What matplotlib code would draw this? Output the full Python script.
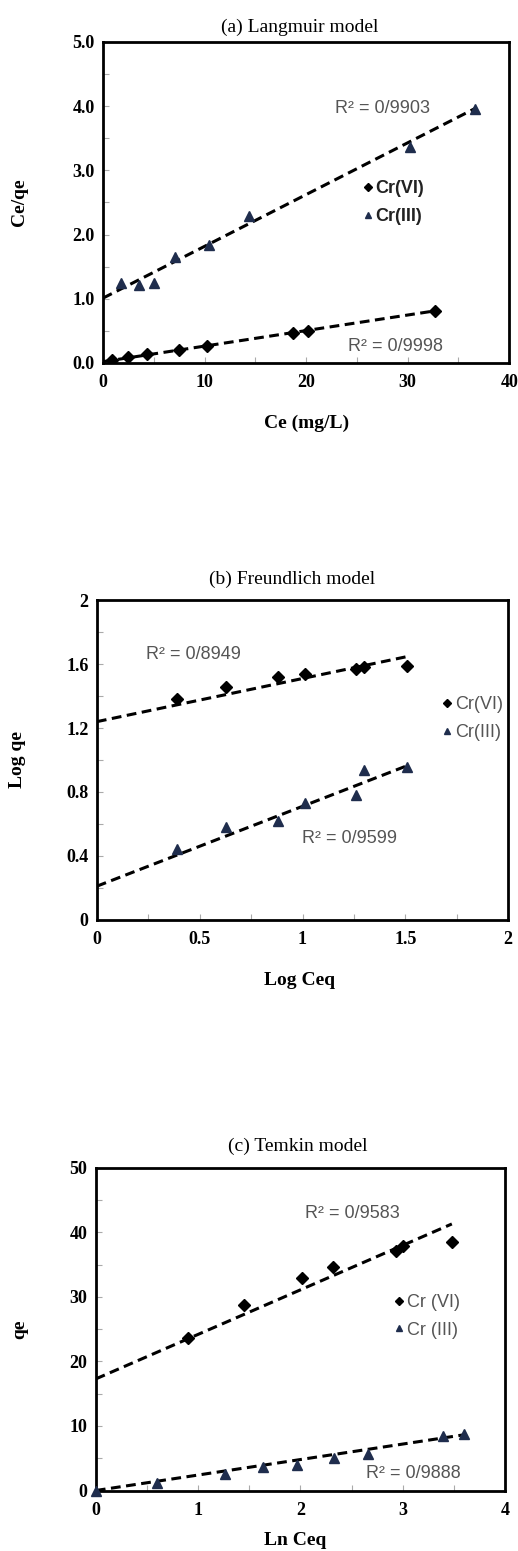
import matplotlib
matplotlib.use('Agg')
import matplotlib.pyplot as plt
import numpy as np
from matplotlib.ticker import MultipleLocator, FormatStrFormatter, FuncFormatter
from matplotlib.lines import Line2D

# (a) Langmuir
lang_ce_cr6 = [0.9, 2.5, 4.3, 7.5, 10.2, 18.7, 20.2, 32.7]
lang_y_cr6 = [0.05, 0.09, 0.14, 0.20, 0.26, 0.47, 0.50, 0.81]
lang_ce_cr3 = [1.8, 3.5, 5.0, 7.1, 10.4, 14.4, 30.2, 36.6]
lang_y_cr3 = [1.25, 1.21, 1.25, 1.65, 1.84, 2.29, 3.36, 3.96]
lang_fit_cr6 = (0.0242, 0.02)   # slope, intercept
lang_fit_cr3 = (0.0806, 1.01)

# (b) Freundlich
fr_x = [0.39, 0.63, 0.88, 1.01, 1.26, 1.30, 1.51]
fr_y_cr6 = [1.38, 1.46, 1.52, 1.54, 1.57, 1.58, 1.59]
fr_y_cr3 = [0.445, 0.58, 0.62, 0.73, 0.78, 0.94, 0.955]
fr_fit_cr6 = (0.27, 1.24)
fr_fit_cr3 = (0.50, 0.21)

# (c) Temkin
tk_x_cr6 = [0.90, 1.45, 2.02, 2.32, 2.93, 3.00, 3.48]
tk_y_cr6 = [23.6, 28.7, 32.9, 34.6, 37.1, 37.9, 38.5]
tk_x_cr3 = [0.0, 0.60, 1.26, 1.63, 1.97, 2.33, 2.66, 3.39, 3.60]
tk_y_cr3 = [0.0, 1.1, 2.5, 3.6, 4.0, 5.1, 5.7, 8.4, 8.7]
tk_fit_cr6 = (6.9, 17.3)
tk_fit_cr3 = (2.4, 0.0)

SERIF = 'Liberation Serif'
SANS = 'Liberation Sans'
TRI_COLOR = '#1f2d4d'
GRAY = '#555555'

fig = plt.figure(figsize=(5.18, 15.51), dpi=100)


def fit_line(ax, xs, coef):
    xx = np.array([0, max(xs)])
    ax.plot(xx, coef[0] * xx + coef[1], color='black', lw=2.2,
            linestyle=(0, (3.2, 1.8)), zorder=2)


def style_axes(ax, xmaj, xmin, ymaj, ymin, xfmt, yfmt):
    for s in ax.spines.values():
        s.set_linewidth(2.0)
        s.set_color('black')
    ax.xaxis.set_major_locator(MultipleLocator(xmaj))
    ax.xaxis.set_minor_locator(MultipleLocator(xmin))
    ax.yaxis.set_major_locator(MultipleLocator(ymaj))
    ax.yaxis.set_minor_locator(MultipleLocator(ymin))
    ax.xaxis.set_major_formatter(xfmt)
    ax.yaxis.set_major_formatter(yfmt)
    ax.tick_params(which='both', direction='in', color='#aaaaaa', width=0.8)
    ax.tick_params(which='major', length=4)
    ax.tick_params(which='minor', length=4)
    ax.tick_params(axis='x', pad=8)
    ax.tick_params(axis='y', pad=6)
    for lab in ax.get_xticklabels() + ax.get_yticklabels():
        lab.set_fontfamily(SERIF)
        lab.set_fontweight('bold')
        lab.set_fontsize(13)


gfmt = FuncFormatter(lambda v, p: '%g' % round(v, 3))

# ---------- (a) Langmuir ----------
ax1 = fig.add_axes([0.199, 0.766, 0.784, 0.207])
fit_line(ax1, lang_ce_cr3, lang_fit_cr3)
fit_line(ax1, lang_ce_cr6, lang_fit_cr6)
ax1.plot(lang_ce_cr6, lang_y_cr6, 'D', color='black', ms=6.5, zorder=3)
ax1.plot(lang_ce_cr3, lang_y_cr3, '^', color=TRI_COLOR, ms=7.5, zorder=3)
ax1.set_xlim(0, 40)
ax1.set_ylim(0, 5)
style_axes(ax1, 10, 5, 1, 0.5, gfmt, FormatStrFormatter('%.1f'))
ax1.set_title('(a) Langmuir model', family=SERIF, fontsize=14, x=0.483, pad=7)
ax1.set_xlabel('Ce (mg/L)', family=SERIF, fontsize=14, fontweight='bold')
ax1.set_ylabel('Ce/qe', family=SERIF, fontsize=14, fontweight='bold')
ax1.xaxis.set_label_coords(0.5, -0.16)
ax1.yaxis.set_label_coords(-0.185, 0.5)
ax1.text(0.687, 0.793, 'R² = 0/9903', transform=ax1.transAxes, ha='center',
         va='center', family=SANS, fontsize=13, color=GRAY)
ax1.text(0.72, 0.05, 'R² = 0/9998', transform=ax1.transAxes, ha='center',
         va='center', family=SANS, fontsize=13, color=GRAY)
h1 = [Line2D([], [], ls='none', marker='D', color='black', ms=4),
      Line2D([], [], ls='none', marker='^', color=TRI_COLOR, ms=5)]
leg = ax1.legend(h1, ['Cr(VI)', 'Cr(III)'], loc='upper left',
                 bbox_to_anchor=(0.6, 0.62), frameon=False, handlelength=0.5,
                 handletextpad=0.2, labelspacing=0.6,
                 prop={'family': SANS, 'size': 13, 'weight': 'bold'})
for t in leg.get_texts():
    t.set_color('#222222')

# ---------- (b) Freundlich ----------
ax2 = fig.add_axes([0.187, 0.407, 0.794, 0.206])
fit_line(ax2, fr_x, fr_fit_cr6)
fit_line(ax2, fr_x, fr_fit_cr3)
ax2.plot(fr_x, fr_y_cr6, 'D', color='black', ms=6.5, zorder=3)
ax2.plot(fr_x, fr_y_cr3, '^', color=TRI_COLOR, ms=7, zorder=3)
ax2.set_xlim(0, 2)
ax2.set_ylim(0, 2)
style_axes(ax2, 0.5, 0.25, 0.4, 0.2, gfmt, gfmt)
ax2.set_title('(b) Freundlich model', family=SERIF, fontsize=14, x=0.474, pad=12)
ax2.set_xlabel('Log Ceq', family=SERIF, fontsize=14, fontweight='bold')
ax2.set_ylabel('Log qe', family=SERIF, fontsize=14, fontweight='bold')
ax2.xaxis.set_label_coords(0.494, -0.163)
ax2.yaxis.set_label_coords(-0.173, 0.5)
ax2.text(0.236, 0.83, 'R² = 0/8949', transform=ax2.transAxes, ha='center',
         va='center', family=SANS, fontsize=13, color=GRAY)
ax2.text(0.615, 0.255, 'R² = 0/9599', transform=ax2.transAxes, ha='center',
         va='center', family=SANS, fontsize=13, color=GRAY)
leg = ax2.legend(h1, ['Cr(VI)', 'Cr(III)'], loc='upper left',
                 bbox_to_anchor=(0.8, 0.75), frameon=False, handlelength=0.5,
                 handletextpad=0.2, labelspacing=0.6,
                 prop={'family': SANS, 'size': 13})
for t in leg.get_texts():
    t.set_color(GRAY)

# ---------- (c) Temkin ----------
ax3 = fig.add_axes([0.185, 0.039, 0.790, 0.208])
fit_line(ax3, tk_x_cr6, tk_fit_cr6)
fit_line(ax3, tk_x_cr3, tk_fit_cr3)
ax3.plot(tk_x_cr6, tk_y_cr6, 'D', color='black', ms=6.5, zorder=3, clip_on=False)
ax3.plot(tk_x_cr3, tk_y_cr3, '^', color=TRI_COLOR, ms=6.5, zorder=3, clip_on=False)
ax3.set_xlim(0, 4)
ax3.set_ylim(0, 50)
style_axes(ax3, 1, 0.5, 10, 5, gfmt, gfmt)
ax3.set_title('(c) Temkin model', family=SERIF, fontsize=14, x=0.494, pad=12)
ax3.set_xlabel('Ln Ceq', family=SERIF, fontsize=14, fontweight='bold')
ax3.set_ylabel('qe', family=SERIF, fontsize=14, fontweight='bold')
ax3.xaxis.set_label_coords(0.487, -0.13)
ax3.yaxis.set_label_coords(-0.166, 0.5)
ax3.text(0.626, 0.86, 'R² = 0/9583', transform=ax3.transAxes, ha='center',
         va='center', family=SANS, fontsize=13, color=GRAY)
ax3.text(0.775, 0.053, 'R² = 0/9888', transform=ax3.transAxes, ha='center',
         va='center', family=SANS, fontsize=13, color=GRAY)
leg = ax3.legend(h1, ['Cr (VI)', 'Cr (III)'], loc='upper left',
                 bbox_to_anchor=(0.69, 0.66), frameon=False, handlelength=0.5,
                 handletextpad=0.2, labelspacing=0.6,
                 prop={'family': SANS, 'size': 13})
for t in leg.get_texts():
    t.set_color(GRAY)

fig.savefig('out.png', dpi=100, facecolor='white')
